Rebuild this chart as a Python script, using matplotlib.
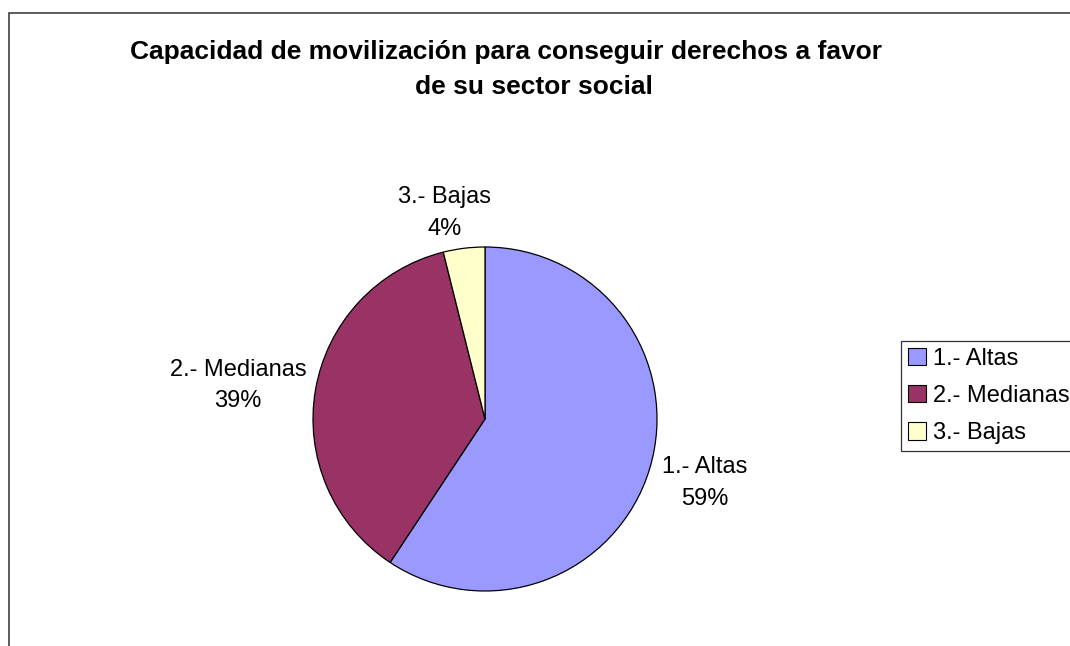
import numpy as np
import matplotlib
matplotlib.use("Agg")
import matplotlib.pyplot as plt
from matplotlib import font_manager as fm
from matplotlib.patches import Rectangle, Patch

plt.rcParams['font.family'] = ['Liberation Sans', 'DejaVu Sans']


def find_font(name):
    for f in fm.findSystemFonts():
        if f.split("/")[-1].lower() == name.lower():
            return f
    return None


bold_file = find_font("LiberationSans-Bold.ttf")
reg_file = find_font("LiberationSans-Regular.ttf")
if bold_file:
    title_fp = fm.FontProperties(fname=bold_file, size=19)
else:
    title_fp = fm.FontProperties(family="Liberation Sans", weight="bold", size=19)
if reg_file:
    text_fp = fm.FontProperties(fname=reg_file, size=17)
else:
    text_fp = fm.FontProperties(family="Liberation Sans", size=17)

categories = ["1.- Altas", "2.- Medianas", "3.- Bajas"]
values = [59.3, 36.8, 3.9]
pct_labels = ["59%", "39%", "4%"]
colors = ["#9999FF", "#993366", "#FFFFCC"]
title_lines = ["Capacidad de movilización para conseguir derechos a favor",
               "de su sector social"]

W, H = 1070, 646
fig = plt.figure(figsize=(W / 100, H / 100), dpi=100)
fig.patch.set_facecolor("white")

# outer chart frame
fig.add_artist(Rectangle((8.5 / W, -0.1), 1.2, 1 - 12.5 / H + 0.1,
                         transform=fig.transFigure, fill=False,
                         edgecolor="#404040", linewidth=1.2))

# title
fig.text(506.5 / W, 1 - 52 / H, title_lines[0], ha="center", va="center",
         fontproperties=title_fp)
fig.text(533.5 / W, 1 - 87 / H, title_lines[1], ha="center", va="center",
         fontproperties=title_fp)

# pie axes
cx, cy, r = 485, 419, 172
ax = fig.add_axes([(cx - r) / W, (H - cy - r) / H, 2 * r / W, 2 * r / H])
wedges, _ = ax.pie(values, colors=colors, startangle=90, counterclock=False,
                   wedgeprops=dict(edgecolor="black", linewidth=0.9))
ax.set_xlim(-1, 1)
ax.set_ylim(-1, 1)
ax.set_aspect("auto")
ax.axis("off")

label_dist = [1.33, 1.45, 1.22]
label_shift = [0.5, 2.0, 4.0]
for w, cat, pct, d, s in zip(wedges, categories, pct_labels, label_dist, label_shift):
    mid = np.deg2rad((w.theta1 + w.theta2) / 2 + s)
    ax.text(d * np.cos(mid), d * np.sin(mid), f"{cat}\n{pct}", ha="center",
            va="center", fontproperties=text_fp, linespacing=1.55, clip_on=False)

# legend
handles = [Patch(facecolor=c, edgecolor="black", linewidth=0.8) for c in colors]
leg = fig.legend(handles, categories, loc="center left",
                 bbox_to_anchor=(901 / W, 1 - 396 / H), prop=text_fp,
                 frameon=True, fancybox=False, edgecolor="black",
                 handlelength=0.75, handleheight=0.75, handletextpad=0.3,
                 labelspacing=0.65, borderpad=0.3, borderaxespad=0)
leg.get_frame().set_linewidth(0.9)

fig.savefig("out.png", dpi=100, facecolor="white")
